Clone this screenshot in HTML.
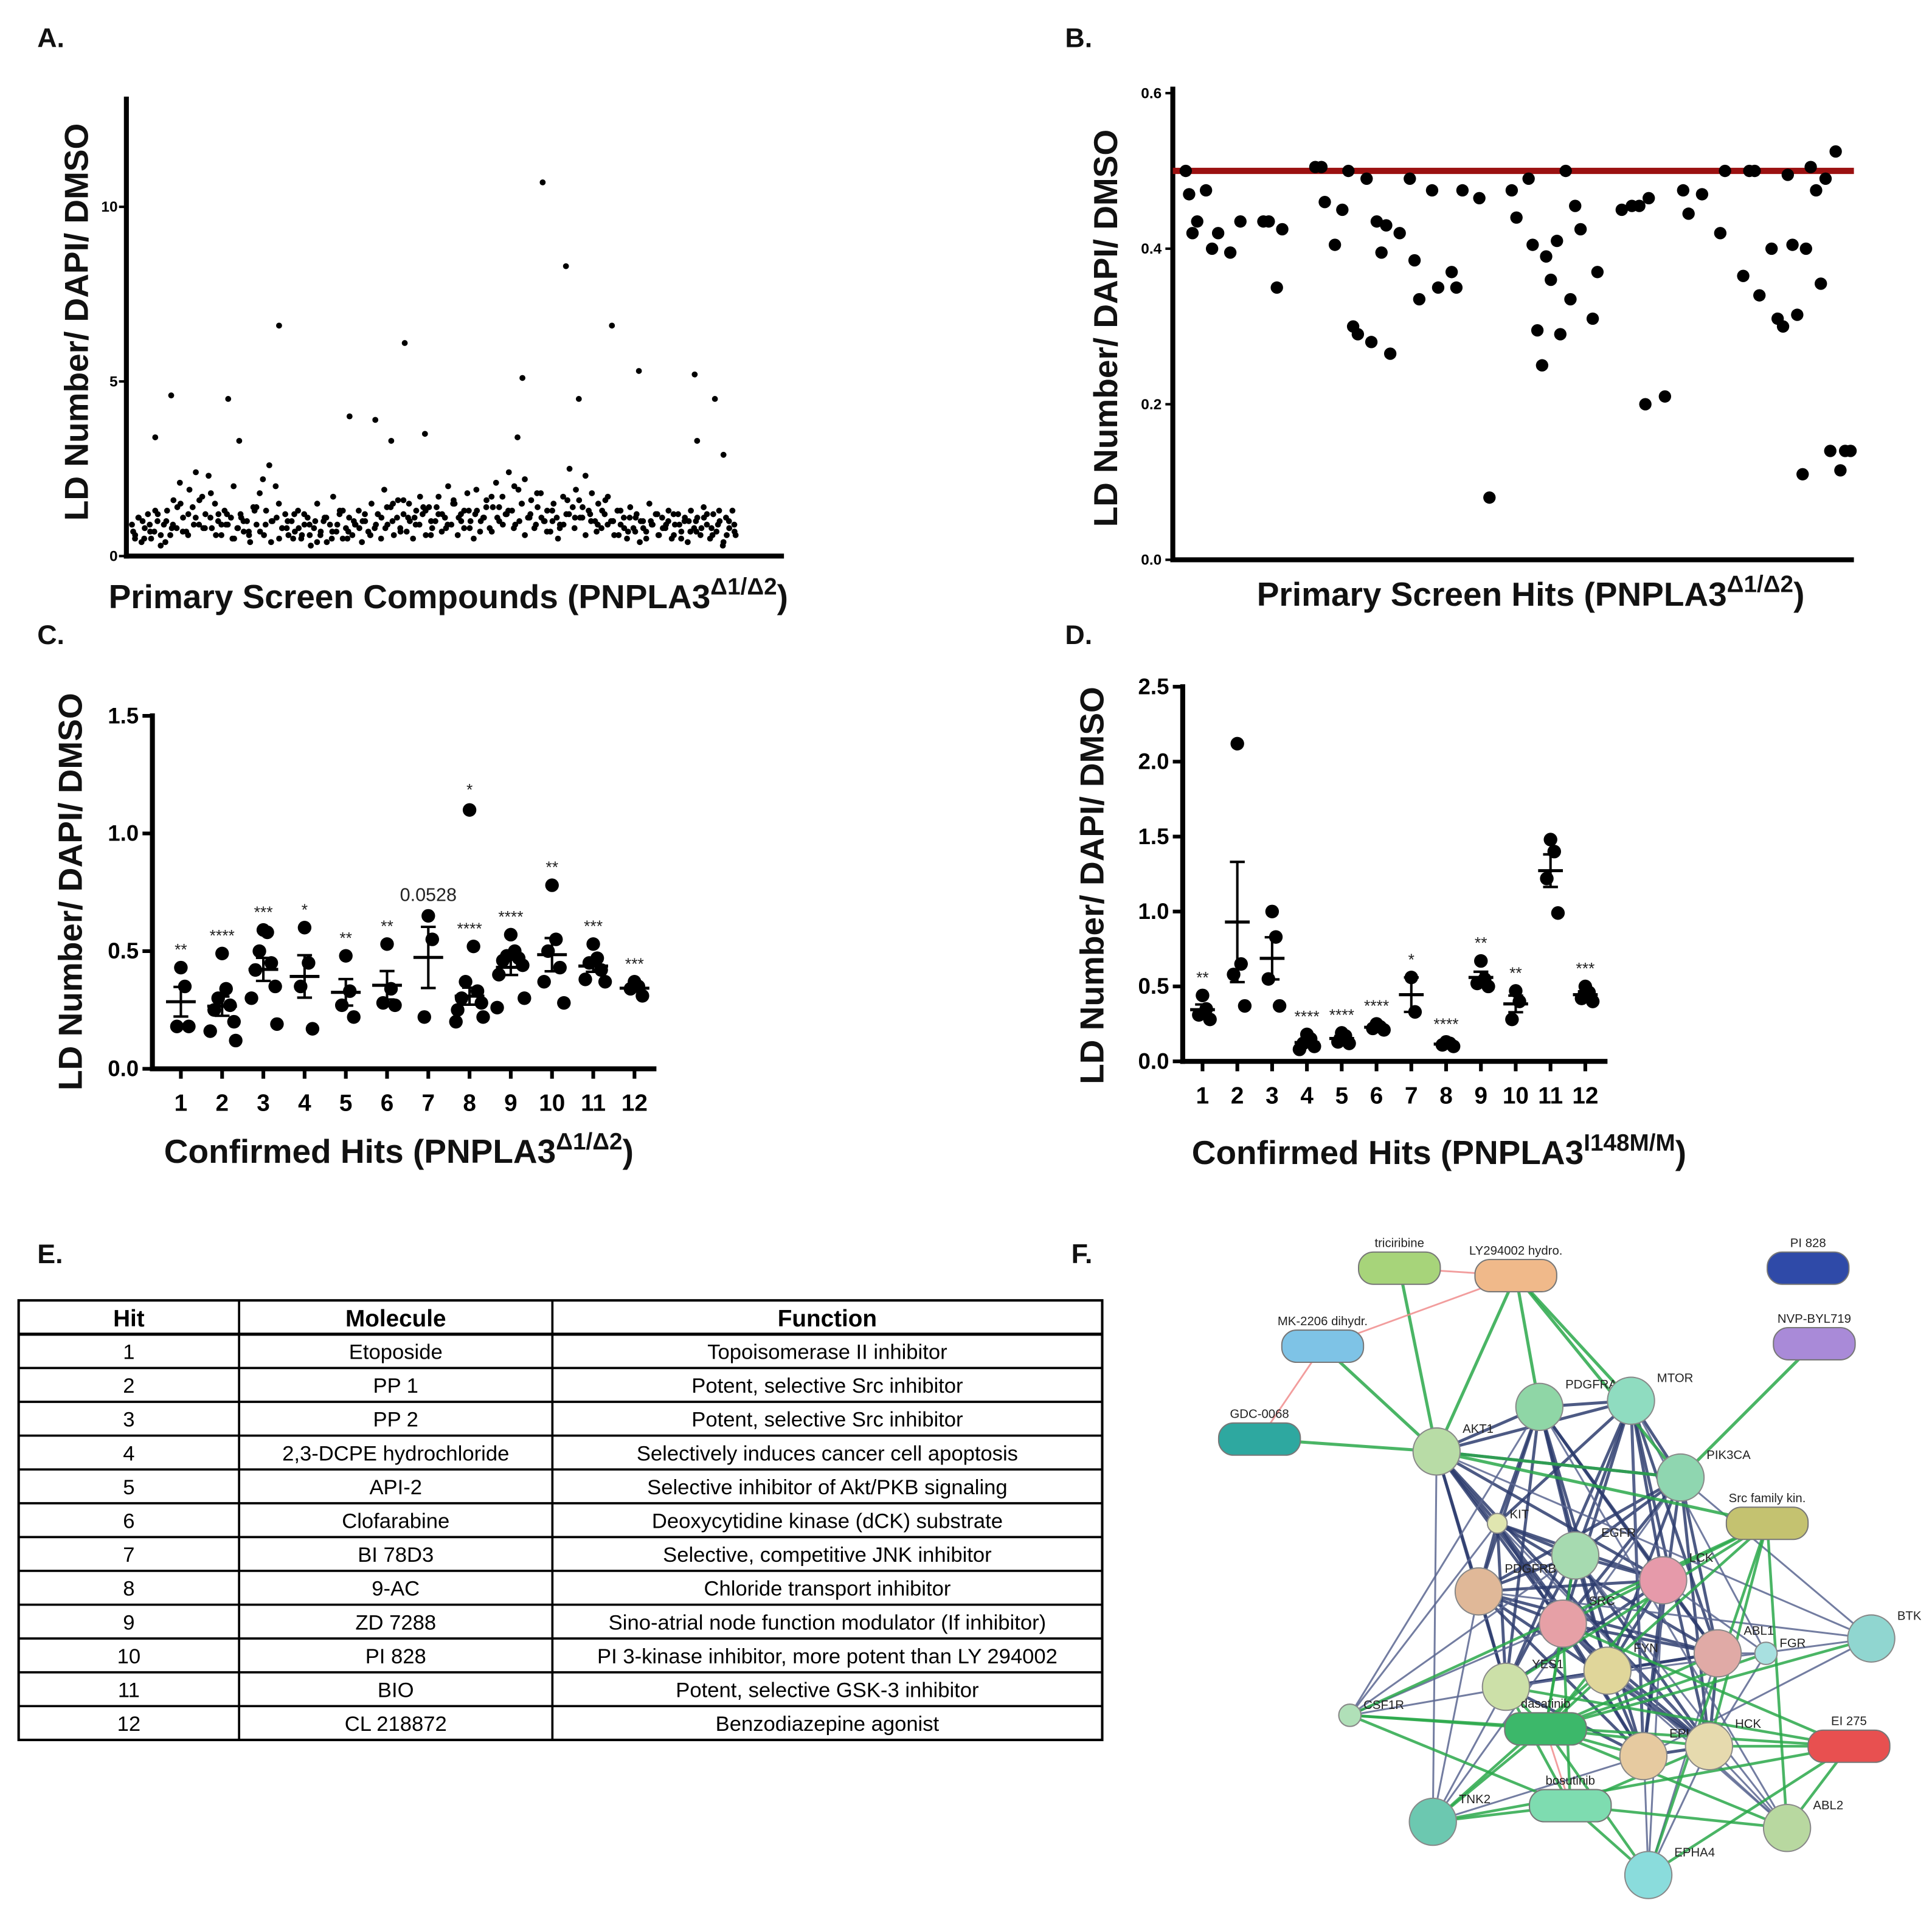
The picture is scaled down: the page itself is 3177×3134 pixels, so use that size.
<!DOCTYPE html>
<html><head><meta charset="utf-8"><style>
html,body{margin:0;padding:0;background:#fff;}
svg{display:block;font-family:"Liberation Sans",Arial,sans-serif;}
</style></head><body>
<svg id="fig" xmlns="http://www.w3.org/2000/svg" width="3177" height="3134" viewBox="0 0 1560 1539">
<rect width="1560" height="1539" fill="#fff"/>
<g font-weight="bold" font-size="22" fill="#111">
<text x="30" y="38">A.</text>
<text x="860" y="38">B.</text>
<text x="30" y="520">C.</text>
<text x="860" y="520">D.</text>
<text x="30" y="1020">E.</text>
<text x="865" y="1020">F.</text>
</g>
<g font-weight="bold" font-size="27" fill="#111" text-anchor="middle">
<text transform="translate(71,260) rotate(-90)">LD Number/ DAPI/ DMSO</text>
<text x="362" y="491">Primary Screen Compounds (PNPLA3<tspan font-size="19" dy="-11">Δ1/Δ2</tspan><tspan dy="11">)</tspan></text>
<text transform="translate(902,265) rotate(-90)">LD Number/ DAPI/ DMSO</text>
<text x="1236" y="489">Primary Screen Hits (PNPLA3<tspan font-size="19" dy="-11">Δ1/Δ2</tspan><tspan dy="11">)</tspan></text>
<text transform="translate(66,720) rotate(-90)">LD Number/ DAPI/ DMSO</text>
<text x="322" y="939">Confirmed Hits (PNPLA3<tspan font-size="19" dy="-11">Δ1/Δ2</tspan><tspan dy="11">)</tspan></text>
<text transform="translate(891,715) rotate(-90)">LD Number/ DAPI/ DMSO</text>
<text x="1162" y="940">Confirmed Hits (PNPLA3<tspan font-size="19" dy="-11">I148M/M</tspan><tspan dy="11">)</tspan></text>
</g>
<g id="gA"></g>
<g id="gB"></g>
<g id="gC"></g>
<g id="gD"></g>
<g id="gE"></g>
<g id="gF"></g>
</svg>
<script>
// ---------- Panel A data ----------
const aBand = [0.9,0.6,1.1,0.4,0.8,1.2,0.5,0.7,1.0,0.3,0.9,1.3,0.6,1.6,0.8,2.1,1.1,0.7,1.9,1.4,2.4,0.9,1.7,1.2,2.3,0.8,1.5,1.0,0.6,1.3,
0.9,1.1,0.5,0.8,1.2,0.7,1.0,0.4,1.4,0.9,1.8,2.2,1.3,2.6,1.0,2.0,1.5,0.8,1.2,0.6,
1.0,0.7,1.3,0.5,0.9,1.1,0.3,0.8,1.5,0.6,1.0,0.4,0.9,1.7,0.7,1.2,0.5,0.8,1.1,0.6,
0.9,1.3,0.4,1.0,0.7,1.5,0.8,1.2,0.5,1.9,0.9,1.4,0.6,1.1,0.8,1.6,0.7,1.0,0.5,1.3,
0.9,1.2,0.6,1.4,0.8,1.0,1.7,0.7,1.1,2.0,0.9,1.5,0.6,1.2,0.8,1.8,1.0,0.5,1.3,0.7,
1.1,1.6,0.8,1.4,2.1,1.0,1.7,1.2,2.4,1.3,0.9,1.9,1.5,2.2,1.1,1.6,0.8,1.4,1.8,1.0,
1.3,0.7,1.5,1.1,0.9,1.7,1.2,2.5,1.4,1.9,1.6,1.1,2.3,1.3,1.8,1.0,1.5,0.8,1.2,1.7,
1.0,0.6,1.3,0.9,1.1,0.5,1.4,0.8,1.2,0.4,1.0,0.7,1.5,0.9,1.2,0.6,1.1,0.8,1.3,0.5,
0.9,1.2,0.7,1.0,0.4,1.3,0.8,1.1,0.6,1.4,0.9,0.5,1.2,0.7,1.0,0.3,1.1,0.8,1.3,0.6];
const aBand2 = [0.5,1.0,0.7,1.2,0.4,0.9,1.5,0.6,1.1,0.8,1.8,1.2,0.9,2.0,1.1,0.7,1.4,0.6,1.0,0.5,0.8,1.2,0.6,0.9,0.4,1.1,0.7,1.3,0.5,0.9,
1.0,0.6,1.2,0.8,1.5,0.7,1.1,0.9,1.4,0.6,1.2,0.8,1.6,1.0,1.3,1.9,1.1,1.7,1.4,1.2,2.0,1.5,1.1,1.8,1.0,1.3,0.8,1.6,1.1,1.4,
1.2,0.9,1.6,1.0,1.3,0.7,1.1,0.8,1.0,0.6,0.9,1.2,0.5,1.0,0.7,1.1,0.8,1.3,0.6,0.9];
const aBand3 = [0.7,1.1,0.5,0.9,1.3,0.6,1.0,0.8,1.4,0.7,1.2,0.9,1.6,0.8,1.1,0.6,0.9,1.2,0.5,0.8,1.0,0.6,1.3,0.7,0.9,0.4,1.1,0.8,1.0,0.5,
0.8,1.2,0.6,1.0,0.7,1.1,0.5,0.9,1.3,0.7,1.0,0.8,1.2,0.6,0.9,1.1,1.4,1.0,1.6,1.2,1.5,1.1,1.7,1.3,1.0,1.4,1.2,0.9,1.5,1.1,
1.3,0.8,1.2,1.0,1.4,0.7,1.1,0.9,1.3,0.8,1.0,0.6,1.2,0.9,1.1,0.7,1.0,0.5,0.9,1.2,0.8,1.1,0.6,1.0,0.7,1.3,0.9,1.0,0.6,0.8,
1.1,0.7,1.0,0.5,0.9,1.2,0.8,1.0,0.6,0.9,1.1,0.7,1.0,0.8,1.2,0.6,0.9,0.4,1.0,0.7];
const aOutX = [39,65,158,176,241,356,398,446,479,638,671,709,730,784,828,919,966,952,424,630,923];
const aOutY = [3.4,4.6,4.5,3.3,6.6,4.0,3.9,6.1,3.5,5.1,10.7,8.3,4.5,6.6,5.3,5.2,2.9,4.5,3.3,3.4,3.3];
const aTicks = [0,5,10];
// ---------- Panel B data ----------
const bIdx = [1,1.5,2,2.7,4,4.9,5.8,7.6,9.1,12.5,13.3,14.5,15.3,20.2,21.1,21.6,23.1,24.2,25.1,25.8,26.5,27.8,28.5,29.3,30,30.7,31.3,32.7,34.2,34.9,35.6,37.5,38.4,40.4,41.1,42,44.5,46,49.3,50,51.8,52.4,53.1,53.8,54.4,55.1,56,56.5,57.3,58,58.7,59.5,61.3,62,65.6,67.1,68.2,69.1,69.6,72,74.7,75.5,77.5,80.2,80.9,83.6,84.5,85.3,86,87.8,88.7,89.5,90.2,90.9,91.6,92.4,92.9,93.6,94.4,95.1,95.8,96.5,97.3,98,98.7,99.5];
const bVal = [0.50,0.47,0.42,0.435,0.475,0.40,0.42,0.395,0.435,0.435,0.435,0.35,0.425,0.505,0.505,0.46,0.405,0.45,0.50,0.30,0.29,0.49,0.28,0.435,0.395,0.43,0.265,0.42,0.49,0.385,0.335,0.475,0.35,0.37,0.35,0.475,0.465,0.08,0.475,0.44,0.49,0.405,0.295,0.25,0.39,0.36,0.41,0.29,0.50,0.335,0.455,0.425,0.31,0.37,0.45,0.455,0.455,0.20,0.465,0.21,0.475,0.445,0.47,0.42,0.50,0.365,0.50,0.50,0.34,0.40,0.31,0.30,0.495,0.405,0.315,0.11,0.40,0.505,0.475,0.355,0.49,0.14,0.525,0.115,0.14,0.14];
const bThreshold = 0.5;
const bTicks = ["0.0","0.2","0.4","0.6"];
// ---------- Panel C data ----------
const cCats = ["1","2","3","4","5","6","7","8","9","10","11","12"];
const cVals = [[0.43,0.35,0.18,0.18],[0.49,0.34,0.30,0.27,0.25,0.20,0.16,0.12],[0.59,0.58,0.50,0.45,0.42,0.35,0.30,0.19],[0.60,0.45,0.35,0.17],[0.48,0.33,0.27,0.22],[0.53,0.34,0.28,0.27],[0.65,0.55,0.22],[1.10,0.52,0.37,0.33,0.30,0.28,0.25,0.22,0.20],[0.57,0.50,0.48,0.47,0.46,0.44,0.40,0.30,0.26],[0.78,0.55,0.50,0.43,0.37,0.28],[0.53,0.47,0.45,0.42,0.38,0.37],[0.37,0.35,0.34,0.31]];
const cSig = ["**","****","***","*","**","**","0.0528","****","****","**","***","***"];
const cSigOutlier = ["","","","","","","","*","","","",""];
const cTicks = ["0.0","0.5","1.0","1.5"];
// ---------- Panel D data ----------
const dCats = ["1","2","3","4","5","6","7","8","9","10","11","12"];
const dVals = [[0.44,0.35,0.31,0.28],[2.12,0.65,0.58,0.37],[1.0,0.83,0.55,0.37],[0.18,0.15,0.12,0.10,0.08],[0.19,0.17,0.13,0.12],[0.25,0.23,0.22,0.21],[0.56,0.33],[0.13,0.12,0.11,0.10],[0.67,0.55,0.52,0.50],[0.47,0.40,0.28],[1.48,1.40,1.22,0.99],[0.50,0.46,0.42,0.40]];
const dSig = ["**","","","****","****","****","*","****","**","**","","***"];
const dSigOutlier = ["","","","","","","","","","","",""];
const dTicks = ["0.0","0.5","1.0","1.5","2.0","2.5"];

const NS="http://www.w3.org/2000/svg";
function mk(tag,attrs,parent){const e=document.createElementNS(NS,tag);for(const k in attrs)e.setAttribute(k,attrs[k]);parent.appendChild(e);return e;}

// ---------- Panel A ----------
(function(){
 const g=document.getElementById('gA');
 const x0=102,x1=633,y0=449,top=78;
 const ys=v=>y0-v*28.2; const xs=i=>106+i*0.495;
 const ya=mk('line',{x1:x0,y1:top,x2:x0,y2:y0+2,stroke:'#000','stroke-width':4},g);
 
 
 const xa=mk('line',{x1:x0-2,y1:y0,x2:x1,y2:y0,stroke:'#000','stroke-width':4},g);
 
 
 aTicks.forEach(t=>{
  mk('line',{x1:x0-6,y1:ys(t),x2:x0,y2:ys(t),stroke:'#000','stroke-width':2},g);
  const tx=mk('text',{x:x0-7,y:ys(t)+4,'font-size':12,'font-weight':'bold','text-anchor':'end'},g);tx.textContent=t;
  
  
 });
 [[aBand,1],[aBand2,6],[aBand3,3]].forEach(([arr,o])=>arr.forEach((v,i)=>{const c=mk('circle',{cx:xs(i*990/arr.length+o),cy:ys(v),r:2.4,fill:'#000'},g);
  
  }));
 aOutX.forEach((x,i)=>{const c=mk('circle',{cx:xs(x),cy:ys(aOutY[i]),r:2.4,fill:'#000'},g);
  
  });
})();

// ---------- Panel B ----------
(function(){
 const g=document.getElementById('gB');
 const x0=947,x1=1497,y0=452;
 const ys=v=>y0-v*628; const xs=i=>x0+5+i*5.45;
 const ya=mk('line',{x1:x0,y1:70,x2:x0,y2:y0+2,stroke:'#000','stroke-width':4},g);
 
 
 const xa=mk('line',{x1:x0-2,y1:y0,x2:x1,y2:y0,stroke:'#000','stroke-width':4},g);
 
 
 bTicks.forEach(t=>{
  mk('line',{x1:x0-6,y1:ys(+t),x2:x0,y2:ys(+t),stroke:'#000','stroke-width':2},g);
  const tx=mk('text',{x:x0-9,y:ys(+t)+4,'font-size':12,'font-weight':'bold','text-anchor':'end'},g);tx.textContent=t;
  
  
 });
 const th=mk('line',{x1:x0,y1:ys(bThreshold),x2:x1,y2:ys(bThreshold),stroke:'#9b1111','stroke-width':5},g);
 
 
 bIdx.forEach((ix,i)=>{const c=mk('circle',{cx:xs(ix),cy:ys(bVal[i]),r:5,fill:'#000'},g);
  
  });
})();

// ---------- dot plots ----------
function dotPlot(gid,pre,cats,vals,sig,sigOut,ticks,cfg){
 const g=document.getElementById(gid);
 const ys=v=>cfg.y0-v*cfg.ppu; const xs=i=>cfg.xf+i*cfg.dx;
 const ya=mk('line',{x1:cfg.x0,y1:ys(+ticks[ticks.length-1])-2,x2:cfg.x0,y2:cfg.y0+2,stroke:'#000','stroke-width':4},g);
 
 
 const xa=mk('line',{x1:cfg.x0-2,y1:cfg.y0,x2:cfg.x1,y2:cfg.y0,stroke:'#000','stroke-width':4},g);
 
 
 ticks.forEach(t=>{
  mk('line',{x1:cfg.x0-8,y1:ys(+t),x2:cfg.x0,y2:ys(+t),stroke:'#000','stroke-width':3},g);
  const tx=mk('text',{x:cfg.x0-11,y:ys(+t)+6,'font-size':18,'font-weight':'bold','text-anchor':'end'},g);tx.textContent=t;
  
  
 });
 cats.forEach((c,i)=>{
  const x=xs(i);
  mk('line',{x1:x,y1:cfg.y0,x2:x,y2:cfg.y0+8,stroke:'#000','stroke-width':3},g);
  const tx=mk('text',{x:x,y:cfg.y0+34,'font-size':19,'font-weight':'bold','text-anchor':'middle'},g);tx.textContent=c;
  
  
  const v=vals[i]; const hasOut=!!sigOut[i];
  const core=hasOut?v.slice(1):v;
  const n=core.length; const m=core.reduce((a,b)=>a+b,0)/n;
  const sd=Math.sqrt(core.reduce((a,b)=>a+(b-m)*(b-m),0)/(n-1)); const se=sd/Math.sqrt(n);
  v.forEach((val,j)=>{
   const off=(n>1)?((j%2?1:-1)*Math.ceil(j/2)*cfg.jit):0;
   const p=mk('circle',{cx:x+Math.max(-cfg.dx*0.33,Math.min(cfg.dx*0.33,off)),cy:ys(val),r:cfg.r,fill:'#000'},g);
   
   
  });
  const mean=mk('line',{x1:x-cfg.mw,y1:ys(m),x2:x+cfg.mw,y2:ys(m),stroke:'#000','stroke-width':2.5},g);
  
  
  const eb=mk('path',{d:`M${x},${ys(m-se)}V${ys(m+se)}M${x-cfg.ew},${ys(m+se)}H${x+cfg.ew}M${x-cfg.ew},${ys(m-se)}H${x+cfg.ew}`,stroke:'#000','stroke-width':2,fill:'none'},g);
  
  
  if(sig[i]){
   const isNum=sig[i][0]==='0';
   const s=mk('text',{x:x,y:Math.min(ys(Math.max(...core)),ys(m+se))-(isNum?12:10),'font-size':isNum?15:13,'text-anchor':'middle',fill:'#222'},g);
   s.textContent=sig[i];
   
   
  }
  if(hasOut){
   const s=mk('text',{x:x,y:ys(v[0])-12,'font-size':13,'text-anchor':'middle',fill:'#222'},g);
   s.textContent=sigOut[i];
   
   
  }
 });
}
dotPlot('gC','c',cCats,cVals,cSig,cSigOutlier,cTicks,{x0:123,x1:530,y0:863,ppu:190,xf:146,dx:33.3,r:5.5,jit:3.2,mw:12,ew:6});
dotPlot('gD','d',dCats,dVals,dSig,dSigOutlier,dTicks,{x0:955,x1:1298,y0:857,ppu:121,xf:971,dx:28.1,r:5.5,jit:3,mw:10,ew:6});

// ---------- Table E ----------
(function(){
 const g=document.getElementById('gE');
 const rows=[["1","Etoposide","Topoisomerase II inhibitor"],["2","PP 1","Potent, selective Src inhibitor"],["3","PP 2","Potent, selective Src inhibitor"],["4","2,3-DCPE hydrochloride","Selectively induces cancer cell apoptosis"],["5","API-2","Selective inhibitor of Akt/PKB signaling"],["6","Clofarabine","Deoxycytidine kinase (dCK) substrate"],["7","BI 78D3","Selective, competitive JNK inhibitor"],["8","9-AC","Chloride transport inhibitor"],["9","ZD 7288","Sino-atrial node function modulator (If inhibitor)"],["10","PI 828","PI 3-kinase inhibitor, more potent than LY 294002"],["11","BIO","Potent, selective GSK-3 inhibitor"],["12","CL 218872","Benzodiazepine agonist"]];
 const xs=[15,193,446,890]; const y0=1050,h=27.3;
 mk('rect',{x:15,y:y0,width:875,height:h*13,fill:'none',stroke:'#000','stroke-width':2},g);
 for(let r=1;r<13;r++) mk('line',{x1:15,y1:y0+r*h,x2:890,y2:y0+r*h,stroke:'#000','stroke-width':r===1?2.5:1.8},g);
 [193,446].forEach(x=>mk('line',{x1:x,y1:y0,x2:x,y2:y0+13*h,stroke:'#000','stroke-width':1.8},g));
 const hd=["Hit","Molecule","Function"];
 hd.forEach((t,i)=>{const e=mk('text',{x:(xs[i]+xs[i+1])/2,y:y0+21,'font-size':19,'font-weight':'bold','text-anchor':'middle'},g);e.textContent=t;
  
  });
 rows.forEach((r,ri)=>r.forEach((t,i)=>{const e=mk('text',{x:(xs[i]+xs[i+1])/2,y:y0+(ri+1)*h+20,'font-size':17,'text-anchor':'middle'},g);e.textContent=t;
  
  }));
})();

// ---------- Network F ----------
(function(){
 const g=document.getElementById('gF');
 const N={
  tric:[1130,1024,'pill','#a7d47a','triciribine'],ly:[1224,1030,'pill','#f0b98a','LY294002 hydro.'],pi:[1460,1024,'pill','#2f4aa8','PI 828'],
  mk:[1068,1087,'pill','#7ec3e6','MK-2206 dihydr.'],nvp:[1465,1085,'pill','#a98ad8','NVP-BYL719'],gdc:[1017,1162,'pill','#2ea8a0','GDC-0068'],
  akt:[1160,1172,19,'#b8dca6','AKT1'],pdgfra:[1243,1136,19,'#8fd6a6','PDGFRA'],mtor:[1317,1131,19,'#8fdcc0','MTOR'],pik:[1357,1193,19,'#8fd6b0','PIK3CA'],
  srcf:[1427,1230,'pill','#c4c270','Src family kin.'],kit:[1209,1230,8,'#e0e6b0','KIT'],egfr:[1272,1256,19,'#a6dab0','EGFR'],lck:[1343,1276,19,'#e69aaa','LCK'],
  pdgfrb:[1194,1285,19,'#e0b898','PDGFRB'],src:[1262,1311,19,'#e6a0a6','SRC'],abl1:[1387,1335,19,'#e0aaa6','ABL1'],fgr:[1426,1335,9,'#a8e0e0','FGR'],
  btk:[1511,1323,19,'#90d6d0','BTK'],yes:[1216,1362,19,'#cce0a8','YES1'],fyn:[1298,1349,19,'#e0d69a','FYN'],csf:[1090,1385,9,'#b0e0b8','CSF1R'],
  das:[1248,1396,'pill','#3cb86a','dasatinib'],epha2:[1327,1418,19,'#e6caa0','EPHA2'],hck:[1380,1410,19,'#e6daae','HCK'],ei:[1493,1410,'pill','#e85050','EI 275'],
  bos:[1268,1458,'pill','#7edcb0','bosutinib'],tnk:[1157,1471,19,'#6cc8b0','TNK2'],abl2:[1443,1476,19,'#b8d8a0','ABL2'],epha4:[1331,1514,19,'#8adcdc','EPHA4']};
 const kin=['akt','pdgfra','mtor','pik','egfr','lck','pdgfrb','src','abl1','yes','fyn','hck','epha2','kit'];
 const eg=mk('g',{},g);
 const E=(a,b,c,w)=>{const l=mk('line',{x1:N[a][0],y1:N[a][1],x2:N[b][0],y2:N[b][1],stroke:c,'stroke-width':w,'stroke-opacity':0.85},eg);
  
  };
 for(let i=0;i<kin.length;i++)for(let j=i+1;j<kin.length;j++)if((i*7+j*3)%4!==0)E(kin[i],kin[j],'#2e3d6e',2.4);
 ['tnk','epha4','abl2','btk','fgr','csf'].forEach((a,k)=>kin.forEach((b,j)=>{if((k+j)%3===0)E(a,b,'#5a6690',1.5);}));
 ['das','bos','srcf','ei'].forEach(d=>['src','lck','yes','fyn','hck','abl1','abl2','btk','tnk','epha2','epha4','fgr','csf','egfr'].forEach((b,j)=>{if(j%2===0||d==='das')E(d,b,'#2aa84a',2.2);}));
 [['tric','akt'],['ly','akt'],['ly','mtor'],['ly','pik'],['ly','pdgfra'],['mk','akt'],['gdc','akt'],['nvp','pik'],['akt','pik'],['akt','srcf']].forEach(p=>E(p[0],p[1],'#2aa84a',2.5));
 [['tric','ly'],['mk','ly'],['mk','gdc'],['das','bos']].forEach(p=>E(p[0],p[1],'#f08c8c',1.4));
 for(const k in N){const [x,y,s,c,lab]=N[k];
  let e;
  if(s==='pill'){e=mk('rect',{x:x-33,y:y-13,width:66,height:26,rx:12,fill:c,stroke:'#777','stroke-width':1},g);
   mk('text',{x:x,y:y-17,'font-size':10,'text-anchor':'middle',fill:'#222'},g).textContent=lab;}
  else{e=mk('circle',{cx:x,cy:y,r:s,fill:c,stroke:'#888','stroke-width':1},g);
   mk('text',{x:x+s+2,y:y-s+4,'font-size':10,fill:'#222'},g).textContent=lab;}
  
  
 }
})();
</script>
</body></html>
